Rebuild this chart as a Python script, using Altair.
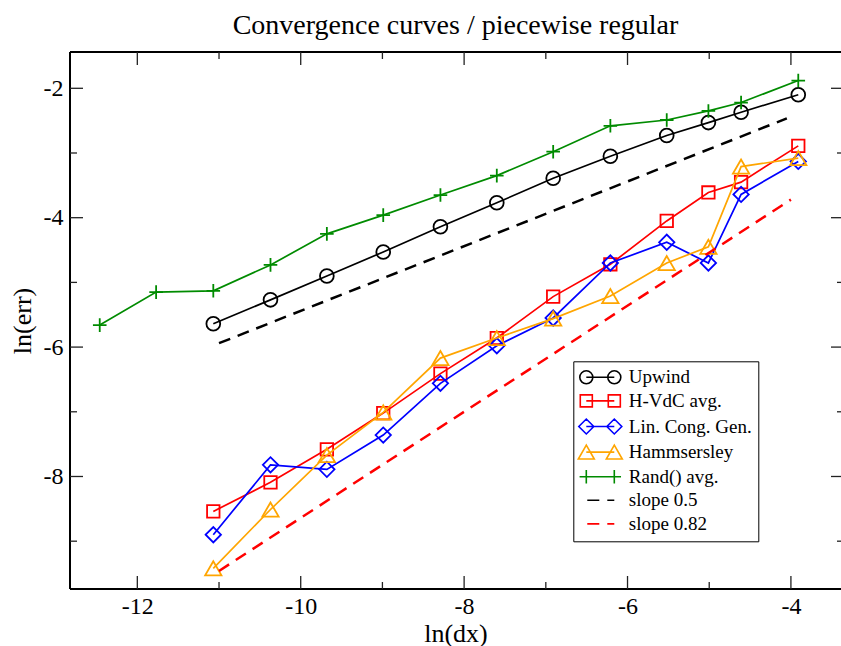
import altair as alt
import pandas as pd

SERIF = "Liberation Serif"

# ---------------- data ----------------
ln_dx = [-12.46, -11.77, -11.07, -10.37, -9.68, -8.99, -8.29, -7.60,
         -6.91, -6.21, -5.52, -5.01, -4.61, -3.91]
ln_dx12 = ln_dx[2:]

upwind = [-5.64, -5.27, -4.90, -4.53, -4.14, -3.77, -3.39, -3.05, -2.73, -2.53, -2.37, -2.10]
hvdc = [-8.54, -8.09, -7.58, -7.02, -6.41, -5.86, -5.22, -4.72, -4.05, -3.61, -3.45, -2.89]
lcg = [-8.90, -7.82, -7.89, -7.36, -6.56, -5.98, -5.55, -4.70, -4.38, -4.70, -3.64, -3.13]
hamm = [-9.42, -8.51, -7.67, -7.01, -6.17, -5.86, -5.56, -5.21, -4.70, -4.45, -3.21, -3.08]
rand = [-5.66, -5.15, -5.13, -4.73, -4.25, -3.96, -3.65, -3.35, -2.98, -2.58, -2.49, -2.35, -2.22, -1.88]

slope05_x = [-11.0, -4.05]
slope05_y = [-5.94, -2.465]
slope082_x = [-11.0, -4.0]
slope082_y = [-9.46, -3.72]

names = ["Upwind", "H-VdC avg.", "Lin. Cong. Gen.", "Hammsersley", "Rand() avg.",
         "slope 0.5", "slope 0.82"]
colors = ["#000000", "#ff0000", "#0000ff", "#ffa500", "#008b00", "#000000", "#ff0000"]

x_major = [-12, -10, -8, -6, -4]
x_minor = [-11, -9, -7, -5]
y_major = [-8, -6, -4, -2]
y_minor = [-9, -7, -5, -3]

# ---------------- layout ----------------
W, H = 771, 537
XS = alt.Scale(domain=[-12.824, -3.387], nice=False, zero=False)
YS = alt.Scale(domain=[-9.739, -1.439], nice=False, zero=False)

PLUS = "M-1,0 L1,0 M0,-1 L0,1"


def circ(cx, r):
    return f"M{cx + r},0 A{r},{r},0,1,1,{cx - r},0 A{r},{r},0,1,1,{cx + r},0"


def sq(cx, h):
    return f"M{cx - h},{-h} L{cx + h},{-h} L{cx + h},{h} L{cx - h},{h} Z"


def dia(cx, h):
    return f"M{cx - h},0 L{cx},{-h} L{cx + h},0 L{cx},{h} Z"


def tri(cx, r, h):
    return f"M{cx},{-h} L{cx - r},{h} L{cx + r},{h} Z"


def plus(cx, h):
    return f"M{cx - h},0 L{cx + h},0 M{cx},{-h} L{cx},{h}"


LINE = "M-2,0 L2,0 "
leg_paths = [
    LINE + circ(-2, 0.93) + " " + circ(2, 0.93),
    LINE + sq(-2, 0.86) + " " + sq(2, 0.86),
    LINE + dia(-2, 1.07) + " " + dia(2, 1.07),
    LINE + tri(-2, 1.14, 0.99) + " " + tri(2, 1.14, 0.99),
    LINE + plus(-2, 0.96) + " " + plus(2, 0.96),
    "M-1.86,0 L-0.14,0 M1.0,0 L2.0,0",
    "M-1.86,0 L-0.14,0 M1.0,0 L2.0,0",
]

series = [
    ("Upwind", ln_dx12, upwind, "circle", 190),
    ("H-VdC avg.", ln_dx12, hvdc, "square", 155),
    ("Lin. Cong. Gen.", ln_dx12, lcg, "diamond", 235),
    ("Hammsersley", ln_dx12, hamm, "triangle-up", 265),
    ("Rand() avg.", ln_dx, rand, PLUS, 185),
]

x_axis = alt.Axis(values=x_major, labelExpr="'' + datum.value", ticks=False, tickSize=0,
                  domain=False, grid=False, labelFont=SERIF, labelFontSize=24,
                  labelColor="black", labelPadding=5, title="ln(dx)", titleFont=SERIF,
                  titleFontSize=26, titleFontWeight="normal", titleColor="black",
                  titlePadding=2)
y_axis = alt.Axis(values=y_major, labelExpr="'' + datum.value", ticks=False, tickSize=0,
                  domain=False, grid=False, labelFont=SERIF, labelFontSize=24,
                  labelColor="black", labelPadding=7, title="ln(err)", titleFont=SERIF,
                  titleFontSize=26, titleFontWeight="normal", titleColor="black",
                  titlePadding=8)


def X(field):
    return alt.X(field, scale=XS, axis=x_axis)


def Y(field):
    return alt.Y(field, scale=YS, axis=y_axis)


layers = []

# data series (first, so it carries the axes)
for (nm, xs, ys, shp, sz) in series:
    col = colors[names.index(nm)]
    d = pd.DataFrame({"x": xs, "y": ys})
    base = alt.Chart(d).encode(x=X("x:Q"), y=Y("y:Q"))
    layers.append(base.mark_line(color=col, strokeWidth=1.7))
    layers.append(base.mark_point(shape=shp, size=sz, filled=False, color=col,
                                  strokeWidth=1.8, opacity=1))

# slope lines
for xs, ys, col in ((slope05_x, slope05_y, "#000000"), (slope082_x, slope082_y, "#ff0000")):
    d = pd.DataFrame({"x": xs, "y": ys})
    layers.append(alt.Chart(d).mark_line(color=col, strokeWidth=2.5, strokeDash=[12, 8]).encode(
        x=X("x:Q"), y=Y("y:Q")))

# frame
one = pd.DataFrame({"a": [0]})
fr = dict(color="black", strokeWidth=2)
layers.append(alt.Chart(one).mark_rule(**fr).encode(x=alt.value(0), y=alt.value(0), y2=alt.value(H)))
layers.append(alt.Chart(one).mark_rule(**fr).encode(x=alt.value(0), x2=alt.value(W + 5), y=alt.value(0)))
layers.append(alt.Chart(one).mark_rule(**fr).encode(x=alt.value(0), x2=alt.value(W + 5), y=alt.value(H)))

# ticks (inward)
tk = dict(color="#222222", strokeWidth=1.3)
for vals, ln in ((x_major, 13), (x_minor, 7)):
    d = pd.DataFrame({"x": vals})
    layers.append(alt.Chart(d).mark_rule(**tk).encode(x=X("x:Q"), y=alt.value(H), y2=alt.value(H - ln)))
    layers.append(alt.Chart(d).mark_rule(**tk).encode(x=X("x:Q"), y=alt.value(0), y2=alt.value(ln)))
for vals, ln in ((y_major, 13), (y_minor, 7)):
    d = pd.DataFrame({"y": vals})
    layers.append(alt.Chart(d).mark_rule(**tk).encode(y=Y("y:Q"), x=alt.value(0), x2=alt.value(ln)))
    layers.append(alt.Chart(d).mark_rule(**tk).encode(y=Y("y:Q"), x=alt.value(W + 3), x2=alt.value(W + 3 - ln)))

# legend-only layer
leg_df = pd.DataFrame({"series": names, "x": slope05_x[:1] * 7, "y": slope05_y[:1] * 7})
leg = alt.Legend(title=None, orient="none", legendX=503.3, legendY=309.3,
                 labelFont=SERIF, labelFontSize=19, labelColor="black",
                 symbolSize=196, symbolStrokeWidth=1.6, symbolOffset=11, labelOffset=19,
                 rowPadding=3.6, padding=6.5, strokeColor="black", fillColor="white")
layers.append(
    alt.Chart(leg_df).mark_point(filled=False, opacity=1).encode(
        x=X("x:Q"),
        y=Y("y:Q"),
        color=alt.Color("series:N", scale=alt.Scale(domain=names, range=colors), legend=leg),
        shape=alt.Shape("series:N", scale=alt.Scale(domain=names, range=leg_paths), legend=leg),
    ).transform_filter("false")
)

chart = alt.layer(*layers).properties(
    width=W, height=H,
    padding={"left": 70, "top": 52, "right": 0, "bottom": 57},
    autosize=alt.AutoSizeParams(type="none"),
    background="white",
    title=alt.TitleParams(text="Convergence curves / piecewise regular", font=SERIF,
                          fontSize=28, fontWeight="normal", color="black",
                          anchor="middle", frame="group", baseline="alphabetic",
                          offset=16, dy=27),
).configure_view(strokeWidth=0)

chart.save("out.html", embed_options={"renderer": "svg", "actions": False})
